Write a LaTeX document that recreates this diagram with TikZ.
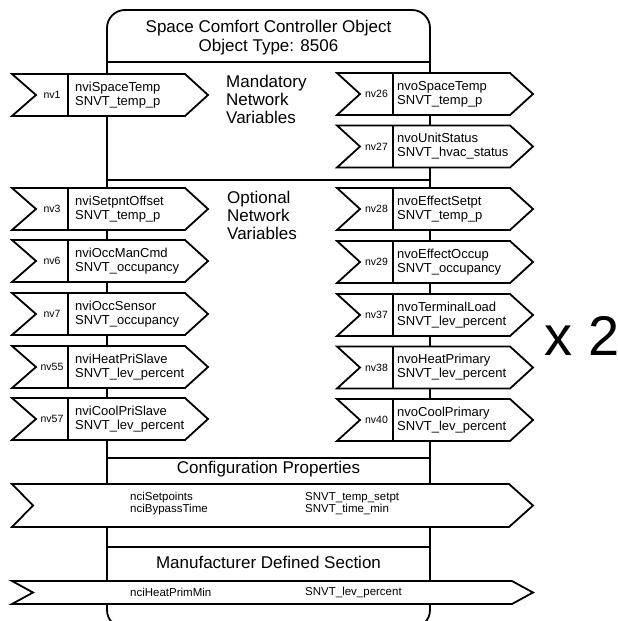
\documentclass[tikz,border=0pt]{standalone}
\usepackage{fontspec}
\setmainfont{Liberation Sans}
\begin{document}
\begin{tikzpicture}[x=1pt,y=-1pt,
  edge/.style={line width=1.8pt},
  arr/.style={line width=1.8pt, fill=white},
  nvname/.style={anchor=west, inner sep=0pt, align=left, font=\fontsize{13}{14}\selectfont},
  nvnum/.style={inner sep=0pt, font=\fontsize{10.5}{12}\selectfont},
  hdr/.style={inner sep=0pt, align=center, font=\fontsize{17}{18.5}\selectfont},
  sect/.style={inner sep=0pt, align=left, anchor=west, font=\fontsize{17}{17.7}\selectfont},
  nci/.style={inner sep=0pt, align=left, anchor=west, font=\fontsize{11.5}{12}\selectfont}]
\useasboundingbox (0,0) rectangle (618,621);
\newcommand\leftnv[5]{%
  \draw[arr] (12,#2-21) -- (185,#2-21) -- (208,#2) -- (185,#2+21) -- (12,#2+21) -- (36,#2) -- cycle;
  \draw[edge] (68,#2-21) -- (68,#2+21);
  \node[nvnum] (#1n) at (52,#2) {#3};
  \node[nvname] (#1t) at (75,#2) {#4\\#5};}
\newcommand\rightnv[5]{%
  \draw[arr] (337,#2-21) -- (510,#2-21) -- (533,#2) -- (510,#2+21) -- (337,#2+21) -- (360,#2) -- cycle;
  \draw[edge] (393,#2-21) -- (393,#2+21);
  \node[nvnum] (#1n) at (376.5,#2) {#3};
  \node[nvname] (#1t) at (397,#2) {#4\\#5};}
% main object box
\draw[edge, rounded corners=18pt] (107,10) rectangle (430,628);
\draw[edge] (107,62) -- (430,62);
\draw[line width=2.6pt] (107,180) -- (430,180);
\draw[edge] (107,458) -- (430,458);
\draw[edge] (107,547) -- (430,547);
\node[hdr] (title) at (268.5,37.5) {Space Comfort Controller Object\\Object Type: 8506};
\node[sect] (mand) at (226,99.5) {Mandatory\\Network\\Variables};
\node[sect] (opt) at (227,215.5) {Optional\\Network\\Variables};
% mandatory
\leftnv{a}{95}{nv1}{nviSpaceTemp}{SNVT\_temp\_p}
\rightnv{b}{94}{nv26}{nvoSpaceTemp}{SNVT\_temp\_p}
\rightnv{c}{146.5}{nv27}{nvoUnitStatus}{SNVT\_hvac\_status}
% optional
\leftnv{d}{209}{nv3}{nviSetpntOffset}{SNVT\_temp\_p}
\leftnv{e}{261}{nv6}{nviOccManCmd}{SNVT\_occupancy}
\leftnv{f}{314}{nv7}{nviOccSensor}{SNVT\_occupancy}
\leftnv{g}{367}{nv55}{nviHeatPriSlave}{SNVT\_lev\_percent}
\leftnv{h}{419}{nv57}{nviCoolPriSlave}{SNVT\_lev\_percent}
\rightnv{i}{209}{nv28}{nvoEffectSetpt}{SNVT\_temp\_p}
\rightnv{j}{262}{nv29}{nvoEffectOccup}{SNVT\_occupancy}
\rightnv{k}{315}{nv37}{nvoTerminalLoad}{SNVT\_lev\_percent}
\rightnv{l}{367.5}{nv38}{nvoHeatPrimary}{SNVT\_lev\_percent}
\rightnv{m}{420}{nv40}{nvoCoolPrimary}{SNVT\_lev\_percent}
\node[inner sep=0pt, font=\fontsize{56}{60}\selectfont] (x2) at (582,336) {x 2};
% configuration properties
\node[hdr] (cfg) at (268.5,469) {Configuration Properties};
\draw[arr] (12,484) -- (509,484) -- (533,505.5) -- (509,527) -- (12,527) -- (33,505.5) -- cycle;
\node[nci] (cfga) at (130,504) {nciSetpoints\\nciBypassTime};
\node[nci] (cfgb) at (305,504) {SNVT\_temp\_setpt\\SNVT\_time\_min};
% manufacturer section
\node[hdr] (mfr) at (268.5,562) {Manufacturer Defined Section};
\draw[arr] (12,581) -- (512,581) -- (533,592.5) -- (512,604) -- (12,604) -- (33,592.5) -- cycle;
\node[nci] (mfra) at (130,592.5) {nciHeatPrimMin};
\node[nci] (mfrb) at (305,592.5) {SNVT\_lev\_percent};
\end{tikzpicture}
\end{document}
